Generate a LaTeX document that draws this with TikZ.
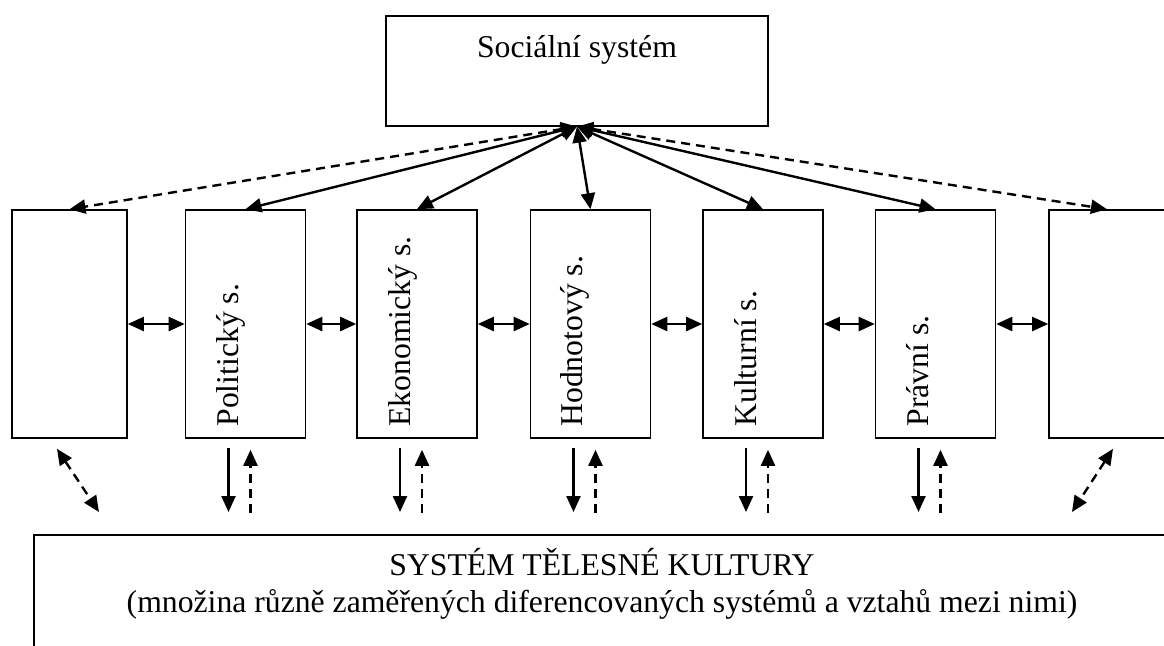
\documentclass[tikz,border=0pt]{standalone}
\usepackage{fontspec}
\setmainfont{Liberation Serif}
\usetikzlibrary{arrows.meta,calc}

\begin{document}
\begin{tikzpicture}[x=0.5pt,y=-0.5pt,>={Triangle[length=8pt,width=7pt]}]
\tikzstyle{every node}=[font=\fontsize{15.85}{18.5}\selectfont];
\tikzstyle{box}=[draw,line width=0.8pt,inner sep=0pt,minimum width=60pt,minimum height=114pt];
\tikzstyle{vtext}=[rotate=90,anchor=base west,inner sep=0pt];
\tikzstyle{link}=[line width=1.2pt];
\tikzstyle{weaklink}=[line width=1.2pt,dash pattern=on 4.5pt off 3pt];
\useasboundingbox (0,0) rectangle (1164,645);
\clip (0,0) rectangle (1164,645);

\node[draw,line width=0.8pt,anchor=north,inner sep=0pt,minimum width=191pt,text height=21pt,text depth=34pt] (soc) at (577,15) {Sociální systém};

% subsystemy
\node[box,minimum width=57.5pt] (b1) at (69.5,324) {};
\node[box] (b2) at (245.5,324) {};
\node[box] (b3) at (417,324) {};
\node[box] (b4) at (590.5,324) {};
\node[box] (b5) at (763,324) {};
\node[box] (b6) at (935.5,324) {};
\node[box,minimum width=58pt] (b7) at (1107,324) {};

\node[vtext] (t2) at (238,427) {Politický s.};
\node[vtext] (t3) at (410,427) {Ekonomický s.};
\node[vtext] (t4) at (582.5,427) {Hodnotový s.};
\node[vtext] (t5) at (756,427) {Kulturní s.};
\node[vtext] (t6) at (928,427) {Právní s.};

% telesna kultura
\node[draw,line width=0.8pt,anchor=north west,inner sep=0pt,minimum width=569pt,minimum height=80pt] (sys) at (33,534) {};
\node[anchor=base] (sys1) at (602,575) {SYSTÉM TĚLESNÉ KULTURY};
\node[anchor=base] (sys2) at (602,612) {(množina různě zaměřených diferencovaných systémů a vztahů mezi nimi)};

% vazby
\draw[weaklink,<->] (soc.south) -- (b1.north);
\draw[weaklink,<->] (soc.south) -- (b7.north);
\foreach \i in {2,...,6}
  \draw[link,<->] (soc.south) -- (b\i.north);
\foreach \a/\b in {b1/b2,b2/b3,b3/b4,b4/b5,b5/b6,b6/b7}
  \draw[link,<->] (\a.east) -- (\b.west);
\foreach \i in {2,...,6}{
  \draw[link,->] ([shift={(-17,9)}]b\i.south) -- ($(b\i.south |- sys.north)+(-17,-22)$);
  \draw[weaklink,->] ($(b\i.south |- sys.north)+(5,-21)$) -- ([shift={(5,11)}]b\i.south);
}
\draw[weaklink,<->] ([shift={(-12.5,10)}]b1.south) -- ($(b1.south |- sys.north)+(29.5,-22)$);
\draw[weaklink,<->] ([shift={(6,10)}]b7.south) -- ($(b7.south |- sys.north)+(-35,-22)$);
\end{tikzpicture}
\end{document}
